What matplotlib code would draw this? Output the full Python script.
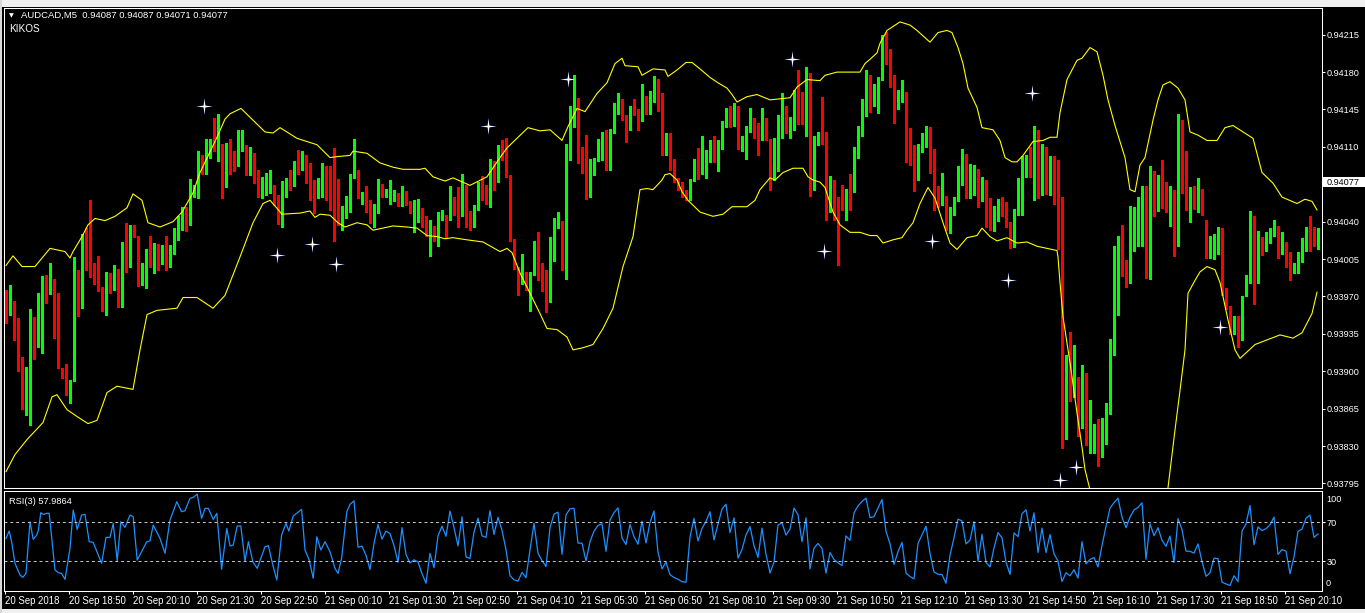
import numpy as np
import matplotlib
matplotlib.use('Agg')
import matplotlib.pyplot as plt
from matplotlib.path import Path
from matplotlib.patches import Rectangle

# AUDCAD M5 candles, prices in points (1 point = 0.00001)
OPEN = [
    93975, 93958, 93966, 93939, 93903, 93876, 93880, 93948, 93923, 93931, 93985, 93980, 93986, 93958, 93903, 93897,
    93875, 93891, 93995, 93968, 94024, 94020, 93992, 93989, 93975, 93956, 93985, 93980, 93989, 93961, 94013, 94006,
    94033, 94027, 93981, 93996, 94003, 93998, 94011, 94003, 94010, 93999, 94013, 94023, 94037, 94046, 94037, 94063,
    94065, 94098, 94088, 94102, 94107, 94106, 94110, 94073, 94106, 94097, 94093, 94111, 94112, 94088, 94099, 94081,
    94067, 94065, 94076, 94074, 94065, 94040, 94067, 94081, 94077, 94095, 94092, 94101, 94084, 94077, 94063, 94064,
    94085, 94070, 94068, 94052, 94037, 94043, 94065, 94083, 94088, 94064, 94068, 94051, 94039, 94049, 94074, 94064,
    94064, 94061, 94063, 94056, 94069, 94055, 94046, 94046, 94049, 94042, 94027, 94036, 94025, 94043, 94046, 94046,
    94063, 94059, 94049, 94074, 94042, 94035, 94054, 94074, 94065, 94064, 94094, 94083, 94105, 94101, 94084, 94022,
    93996, 93985, 93992, 93974, 93992, 94021, 93989, 93977, 93966, 94003, 94034, 94041, 93996, 94098, 94144, 94147,
    94097, 94096, 94063, 94084, 94098, 94107, 94111, 94092, 94123, 94145, 94155, 94139, 94130, 94145, 94141, 94140,
    94155, 94143, 94158, 94173, 94145, 94113, 94116, 94092, 94080, 94077, 94066, 94060, 94079, 94098, 94085, 94094,
    94100, 94113, 94100, 94108, 94130, 94145, 94131, 94148, 94112, 94116, 94127, 94136, 94127, 94116, 94135, 94117,
    94082, 94087, 94126, 94131, 94124, 94126, 94162, 94161, 94145, 94172, 94081, 94113, 94120, 94113, 94050, 94076,
    94061, 94056, 94052, 94073, 94068, 94104, 94120, 94142, 94159, 94157, 94156, 94173, 94210, 94186, 94177, 94145,
    94154, 94161, 94109, 94094, 94084, 94110, 94115, 94128, 94108, 94071, 94063, 94064, 94032, 94048, 94062, 94083,
    94087, 94073, 94076, 94089, 94060, 94079, 94046, 94036, 94042, 94060, 94058, 94038, 94016, 94046, 94046, 94083,
    94096, 94083, 94118, 94068, 94110, 94066, 94094, 94059, 94035, 93890, 93907, 93883, 93890, 93848, 93898, 93830,
    93837, 93840, 93821, 93839, 93864, 93920, 93964, 94026, 94004, 93990, 94013, 94039, 94048, 94072, 93993, 94087,
    94062, 94082, 94066, 94058, 94067, 94027, 94121, 94106, 94051, 94061, 94058, 94065, 94042, 94013, 94013, 94020,
    94020, 93971, 93961, 93945, 93951, 93930, 93970, 93983, 94038, 93983, 94025, 94019, 94024, 94028, 94036, 94010,
    94013, 94011, 93992, 93992, 94005, 94013, 94027, 94021, 94014,
]
HIGH = [
    93976, 93981, 93966, 93950, 93913, 93904, 93958, 93951, 93973, 93989, 93990, 94001, 93986, 93973, 93903, 93907,
    93892, 94007, 93995, 94028, 94034, 94060, 94001, 94008, 93979, 93993, 93992, 93999, 93996, 94021, 94039, 94037,
    94037, 94027, 94001, 94014, 94027, 94020, 94019, 94018, 94027, 94018, 94034, 94045, 94054, 94054, 94080, 94074,
    94106, 94102, 94117, 94117, 94137, 94141, 94113, 94114, 94117, 94106, 94126, 94126, 94112, 94110, 94104, 94088,
    94082, 94086, 94088, 94074, 94065, 94078, 94081, 94088, 94097, 94107, 94106, 94102, 94095, 94079, 94081, 94095,
    94092, 94092, 94109, 94080, 94055, 94064, 94085, 94117, 94088, 94068, 94073, 94060, 94057, 94080, 94075, 94071,
    94079, 94070, 94067, 94073, 94069, 94059, 94060, 94061, 94053, 94045, 94042, 94036, 94049, 94051, 94046, 94073,
    94063, 94072, 94085, 94074, 94050, 94056, 94077, 94083, 94074, 94099, 94097, 94112, 94116, 94118, 94084, 94024,
    93998, 94010, 93993, 93993, 94022, 94030, 94001, 93995, 94026, 94043, 94049, 94041, 94113, 94148, 94177, 94156,
    94110, 94121, 94099, 94100, 94117, 94124, 94126, 94127, 94151, 94160, 94155, 94140, 94148, 94155, 94145, 94169,
    94158, 94162, 94176, 94174, 94160, 94123, 94123, 94099, 94081, 94077, 94070, 94080, 94099, 94109, 94120, 94107,
    94116, 94120, 94116, 94134, 94146, 94148, 94151, 94148, 94120, 94130, 94146, 94137, 94132, 94146, 94137, 94117,
    94118, 94140, 94160, 94148, 94138, 94163, 94182, 94161, 94185, 94179, 94120, 94124, 94157, 94124, 94083, 94079,
    94063, 94074, 94071, 94085, 94110, 94130, 94155, 94182, 94177, 94169, 94175, 94215, 94218, 94202, 94177, 94163,
    94173, 94161, 94128, 94112, 94113, 94123, 94130, 94129, 94108, 94073, 94086, 94064, 94054, 94063, 94092, 94108,
    94103, 94094, 94093, 94089, 94082, 94079, 94062, 94055, 94061, 94063, 94058, 94040, 94052, 94081, 94101, 94102,
    94110, 94130, 94126, 94113, 94110, 94101, 94101, 94098, 94063, 93915, 93937, 93925, 93895, 93906, 93898, 93873,
    93851, 93855, 93856, 93870, 93930, 94017, 94027, 94037, 94004, 94055, 94054, 94063, 94073, 94073, 94092, 94087,
    94084, 94098, 94077, 94073, 94070, 94141, 94135, 94106, 94072, 94073, 94081, 94071, 94042, 94027, 94028, 94035,
    94034, 93978, 93961, 93952, 93952, 93970, 93990, 94050, 94045, 94031, 94026, 94030, 94034, 94042, 94036, 94030,
    94021, 94012, 94001, 94012, 94025, 94035, 94045, 94035, 94034,
]
LOW = [
    93945, 93953, 93929, 93900, 93865, 93859, 93850, 93911, 93923, 93917, 93964, 93972, 93931, 93903, 93894, 93878,
    93870, 93891, 93952, 93959, 93995, 93988, 93982, 93975, 93956, 93953, 93973, 93976, 93960, 93960, 93993, 93998,
    94026, 93980, 93981, 93978, 93998, 93992, 93995, 94000, 93995, 93998, 94010, 94023, 94032, 94031, 94037, 94063,
    94062, 94085, 94085, 94100, 94106, 94097, 94062, 94072, 94085, 94087, 94092, 94106, 94084, 94084, 94076, 94063,
    94062, 94065, 94067, 94056, 94038, 94035, 94063, 94070, 94073, 94085, 94088, 94076, 94060, 94048, 94062, 94063,
    94060, 94051, 94022, 94037, 94032, 94043, 94049, 94081, 94062, 94057, 94049, 94039, 94035, 94048, 94063, 94063,
    94057, 94059, 94055, 94055, 94056, 94048, 94030, 94040, 94035, 94027, 94008, 94022, 94017, 94042, 94026, 94042,
    94046, 94035, 94045, 94035, 94032, 94035, 94051, 94060, 94057, 94054, 94070, 94077, 94098, 94082, 94022, 93996,
    93971, 93982, 93976, 93956, 93990, 93985, 93975, 93955, 93965, 94003, 94034, 93995, 93986, 94098, 94129, 94095,
    94086, 94061, 94063, 94084, 94097, 94098, 94088, 94088, 94123, 94141, 94135, 94115, 94126, 94140, 94126, 94134,
    94141, 94141, 94152, 94144, 94102, 94102, 94088, 94077, 94070, 94063, 94060, 94060, 94078, 94080, 94085, 94081,
    94096, 94096, 94087, 94108, 94129, 94129, 94130, 94108, 94106, 94099, 94124, 94118, 94102, 94116, 94116, 94070,
    94079, 94087, 94118, 94123, 94118, 94126, 94131, 94131, 94120, 94064, 94070, 94112, 94113, 94042, 94049, 94042,
    93999, 94051, 94042, 94051, 94068, 94100, 94120, 94139, 94143, 94148, 94142, 94173, 94188, 94166, 94132, 94145,
    94152, 94096, 94093, 94069, 94079, 94105, 94110, 94086, 94051, 94054, 94056, 94032, 94029, 94046, 94059, 94074,
    94062, 94062, 94065, 94054, 94059, 94035, 94032, 94031, 94041, 94045, 94035, 94015, 94016, 94046, 94046, 94082,
    94082, 94060, 94062, 94065, 94066, 94065, 94057, 94014, 93828, 93837, 93872, 93876, 93839, 93847, 93831, 93823,
    93823, 93811, 93820, 93832, 93860, 93915, 93953, 93989, 93979, 93983, 94013, 94017, 94017, 93987, 93986, 94045,
    94050, 94053, 94049, 94036, 94008, 94017, 94067, 94051, 94040, 94052, 94049, 94046, 94006, 94006, 94005, 94010,
    93971, 93958, 93935, 93935, 93923, 93929, 93970, 93983, 93963, 93983, 94009, 94013, 94020, 94027, 94006, 94010,
    93998, 93985, 93992, 93992, 94002, 94013, 94013, 94017, 94014,
]
CLOSE = [
    93956, 93966, 93938, 93900, 93876, 93881, 93948, 93922, 93931, 93985, 93981, 93987, 93958, 93903, 93899, 93878,
    93892, 93997, 93967, 94018, 94022, 93988, 93989, 93975, 93957, 93981, 93980, 93993, 93961, 94014, 94006, 94033,
    94031, 93986, 93994, 94002, 94002, 94013, 94008, 94007, 94002, 94016, 94025, 94043, 94040, 94041, 94063, 94067,
    94101, 94088, 94108, 94109, 94106, 94110, 94072, 94113, 94092, 94092, 94120, 94112, 94084, 94098, 94079, 94067,
    94071, 94076, 94078, 94061, 94042, 94066, 94081, 94077, 94091, 94093, 94098, 94083, 94076, 94048, 94079, 94080,
    94070, 94065, 94051, 94040, 94046, 94064, 94084, 94099, 94064, 94065, 94057, 94039, 94054, 94072, 94063, 94069,
    94068, 94064, 94056, 94070, 94056, 94049, 94050, 94049, 94043, 94027, 94036, 94024, 94039, 94046, 94042, 94065,
    94058, 94049, 94074, 94037, 94035, 94056, 94076, 94064, 94063, 94097, 94081, 94107, 94098, 94082, 94022, 93997,
    93986, 93991, 93976, 93992, 94021, 93988, 93975, 93965, 94004, 94036, 94042, 93995, 94101, 94144, 94147, 94095,
    94095, 94062, 94085, 94100, 94108, 94110, 94092, 94126, 94142, 94155, 94135, 94130, 94148, 94141, 94137, 94153,
    94142, 94158, 94175, 94144, 94112, 94117, 94088, 94078, 94073, 94065, 94062, 94080, 94098, 94085, 94095, 94101,
    94112, 94100, 94111, 94131, 94145, 94131, 94148, 94110, 94117, 94129, 94137, 94126, 94117, 94136, 94116, 94081,
    94088, 94128, 94132, 94124, 94129, 94161, 94158, 94143, 94170, 94081, 94113, 94120, 94113, 94052, 94076, 94062,
    94056, 94051, 94071, 94068, 94101, 94121, 94143, 94169, 94157, 94158, 94174, 94212, 94188, 94176, 94145, 94155,
    94162, 94108, 94093, 94083, 94110, 94119, 94128, 94106, 94071, 94064, 94064, 94032, 94049, 94063, 94087, 94086,
    94073, 94075, 94087, 94059, 94080, 94044, 94035, 94048, 94061, 94058, 94038, 94016, 94051, 94048, 94085, 94097,
    94083, 94116, 94068, 94112, 94066, 94100, 94060, 94041, 93890, 93906, 93883, 93890, 93848, 93900, 93831, 93838,
    93840, 93820, 93839, 93864, 93920, 93962, 94027, 94003, 93990, 94016, 94041, 94050, 94072, 93993, 94088, 94062,
    94084, 94064, 94055, 94067, 94027, 94121, 94103, 94060, 94060, 94057, 94064, 94046, 94012, 94014, 94021, 94021,
    93971, 93958, 93945, 93949, 93930, 93970, 93981, 94038, 93983, 94025, 94020, 94023, 94028, 94038, 94010, 94013,
    94012, 93986, 93994, 94011, 94013, 94022, 94024, 94018, 94021,
]

# Bollinger envelope as (bar, price points)
BB_UP_BAR = [
    0, 1.75, 4, 7.25, 11, 14.75, 16, 16.75, 19, 20.5, 22.25, 24.75, 27.25, 30.25, 31.75, 34, 35.5, 38.5, 41.75, 44,
    46.75, 48.5, 52.75, 54.75, 56, 58.75, 61.75, 64.75, 66.75, 68.5, 72.75, 75.25, 77.75, 81, 83, 86, 86.75, 90.25,
    93.5, 96.75, 99.25, 103.5, 104.75, 106.75, 109.75, 111.75, 116, 120.25, 123.5, 125.25, 127.75, 130.5, 133.5,
    136, 139, 140.5, 142.75, 144.75, 147.75, 150.25, 152.25, 154, 154.75, 158, 159, 161.75, 164.75, 165.5, 167.75,
    170, 171.5, 173.5, 176, 178, 180.25, 181.5, 182.75, 185.25, 187.75, 191, 196, 197.75, 200.25, 203.5, 204.75,
    207.75, 213.5, 214.75, 216, 217.75, 218.5, 220.25, 223.5, 226, 227.75, 231, 233, 235.25, 236.5, 238, 239.25,
    240.5, 242.75, 244, 246.75, 248.5, 249.75, 251.5, 252.75, 254.25, 256.75, 259.25, 261, 262.75, 263.5, 265.25,
    267.75, 269, 271, 272.75, 274.25, 275.5, 277.25, 279.75, 281, 282.25, 283.5, 284.75, 286.75, 288, 289.25, 291,
    293, 294.75, 296, 298, 300.25, 302.75, 304.75, 306.75, 309.25, 311.75, 314, 316.75, 319, 322.75, 324.75, 326.5,
    327.75,
]
BB_UP = [
    93999, 94008, 93998, 93998, 94015, 94012, 94006, 94012, 94026, 94037, 94043, 94041, 94045, 94053, 94066, 94060,
    94039, 94035, 94040, 94049, 94067, 94086, 94119, 94136, 94141, 94146, 94135, 94124, 94123, 94128, 94118, 94115,
    94112, 94100, 94101, 94102, 94106, 94104, 94095, 94091, 94089, 94089, 94090, 94082, 94078, 94081, 94074, 94082,
    94100, 94109, 94118, 94128, 94125, 94126, 94116, 94129, 94146, 94143, 94160, 94170, 94188, 94193, 94186, 94185,
    94177, 94183, 94182, 94176, 94182, 94189, 94189, 94183, 94175, 94170, 94165, 94159, 94152, 94157, 94159, 94154,
    94156, 94166, 94173, 94172, 94177, 94180, 94180, 94188, 94192, 94198, 94207, 94219, 94227, 94224, 94219, 94208,
    94217, 94219, 94217, 94203, 94188, 94165, 94147, 94128, 94126, 94116, 94100, 94096, 94096, 94102, 94115, 94116,
    94119, 94119, 94142, 94173, 94191, 94193, 94203, 94199, 94177, 94154, 94130, 94100, 94070, 94068, 94093, 94100,
    94135, 94154, 94168, 94171, 94165, 94154, 94124, 94121, 94116, 94116, 94128, 94130, 94124, 94118, 94086, 94076,
    94063, 94057, 94061, 94059, 94051,
]
BB_LO_BAR = [
    0, 2.25, 5.25, 9.25, 11.5, 12.75, 15.25, 18, 20.5, 22.75, 25.25, 27.75, 31.75, 33.5, 35.25, 37.75, 42.75, 44.25,
    47.75, 51.75, 54.75, 58.5, 61.75, 64.25, 66, 69, 73.5, 76, 77.25, 78.5, 81, 83, 84.75, 87.75, 90.25, 91.75,
    94.25, 96.75, 100.25, 102.75, 105.25, 107.75, 109.75, 111.75, 115.25, 119.25, 123.5, 125.25, 126.5, 128.5, 131,
    133.5, 135.25, 137.75, 140.25, 141.75, 144.25, 146.75, 149.25, 151.75, 154.25, 156.75, 158.5, 160.25, 161.75,
    164, 164.75, 166, 167.75, 169, 170.5, 173.5, 176.75, 179.25, 181.5, 185.25, 187.25, 188.5, 191, 192.25, 194.25,
    196.75, 199.25, 200.5, 201.75, 203.5, 204.75, 206.75, 208.5, 211, 213.5, 216, 217.75, 219.25, 221.75, 224,
    225.25, 226.75, 228.5, 230.5, 232.25, 234.25, 236, 237.75, 240.25, 242.75, 244, 246, 247.75, 250.25, 252.75,
    255.25, 257.75, 260.25, 262.75, 263, 263.5, 264.25, 266, 267.75, 269, 269.75, 271, 276, 283, 288, 290.5, 292.25,
    293.5, 294.75, 295.5, 297.25, 298.5, 300.25, 302.25, 303.5, 305.5, 307.25, 308.5, 312.25, 318.5, 321.75, 324,
    326.5, 327.75,
]
BB_LO = [
    93806, 93822, 93836, 93852, 93876, 93878, 93864, 93857, 93851, 93854, 93880, 93886, 93883, 93920, 93953, 93957,
    93959, 93969, 93969, 93959, 93971, 94007, 94039, 94057, 94060, 94047, 94048, 94050, 94044, 94047, 94046, 94039,
    94035, 94039, 94037, 94032, 94034, 94036, 94035, 94034, 94027, 94026, 94024, 94025, 94023, 94021, 94012, 94015,
    94011, 93992, 93973, 93954, 93940, 93939, 93932, 93920, 93922, 93925, 93940, 93959, 93998, 94026, 94070, 94071,
    94070, 94079, 94084, 94085, 94079, 94068, 94060, 94049, 94045, 94047, 94054, 94054, 94060, 94070, 94081, 94079,
    94086, 94090, 94090, 94082, 94079, 94077, 94072, 94049, 94037, 94030, 94030, 94027, 94027, 94020, 94023, 94025,
    94032, 94039, 94057, 94072, 94062, 94039, 94020, 94014, 94025, 94027, 94034, 94026, 94022, 94025, 94020, 94021,
    94017, 94015, 94013, 94007, 93983, 93951, 93908, 93861, 93829, 93808, 93789, 93760, 93745, 93765, 93791, 93845,
    93882, 93920, 93973, 93985, 93993, 93998, 93995, 93983, 93948, 93920, 93912, 93925, 93934, 93931, 93936, 93954,
    93974,
]

# KIKOS signal stars
STAR_BAR = [49.5, 67.7, 76.5, 82.5, 120.5, 140.5, 196.5, 204.5, 231.5, 250.5, 256.5, 263.5, 267.5, 303.5]
STAR_PRICE = [94148, 94009, 94019, 94000, 94130, 94174, 94192, 94013, 94022, 93985, 94160, 93798, 93810, 93941]

# RSI(3) line, (bar, value)
RSI_BAR = [
    0, 0.8, 1.4, 2.25, 3.5, 4.2, 5, 6, 6.8, 7.7, 8.1, 8.7, 9.3, 10.2, 10.8, 12.25, 13.1, 13.9, 14.75, 16, 16.8,
    17.8, 18.9, 19.75, 20.8, 21.8, 23.9, 25, 26, 26.8, 27.8, 28.7, 29.75, 31, 31.8, 32.8, 35.2, 36, 36.8, 38.5,
    39.75, 41, 42.7, 43.9, 44.75, 46, 46.8, 47.8, 48.9, 49.75, 50.6, 51.8, 52.7, 53.9, 55.2, 56, 56.8, 57.8, 58.7,
    59.75, 60.6, 61.7, 62.8, 64.75, 65.6, 66.7, 67.7, 68.9, 70, 70.7, 71.8, 73.9, 74.75, 75.8, 76.8, 77.7, 78.7,
    79.75, 81, 82.25, 83, 83.9, 85.2,
] + list(range(86, 329))
RSI_VAL = [
    53.4, 61, 50, 27.6, 15.5, 13.1, 17.2, 70.6, 52.4, 56.9, 62, 80, 78.2, 79.3, 79.3, 20.7, 17.9, 17.2, 11, 43.1,
    82.7, 62.7, 77.5, 78.2, 50, 49.3, 27.6, 54.4, 54.4, 68.9, 30.3, 70.6, 64.8, 77.5, 75.8, 31, 50, 50.7, 67.2,
    53.4, 37.9, 72.4, 91.3, 81, 82, 94.8, 95.8, 99.2, 74.1, 84.4, 84.4, 73, 79.3, 21.4, 63.7, 45.5, 46.5, 66.2,
    66.2, 30, 50, 29.3, 22.4, 44.8, 45.8, 25.9, 10.4, 56.9, 68.9, 61, 76.5, 83.4, 41.4, 31, 12.1, 55.1, 41.4, 50,
    39.6, 22.4, 17.2, 32.7, 81,
    88.6, 92.2, 44.2, 45.4, 35.9, 21.2, 48, 67.7, 52.6, 61, 58.4, 46, 28.6, 64.5, 36.7, 28, 31.3, 29, 17, 7,
    38, 23, 56, 66, 55.6, 81.7, 64.5, 45.6, 75.7, 34.2, 32.7, 59.8, 74.3, 56, 54.5, 82, 57.5, 75.2, 61.7, 41.8,
    14.8, 10.7, 9.1, 18.2, 12.8, 41.4, 69, 38.2, 30.3, 24.4, 64.5, 78.5, 80.5, 36.9, 77.7, 84, 84.5, 48.5, 48.5, 30,
    50, 60.9, 66.7, 68.5, 40, 72.4, 80, 85, 53.8, 47, 67.8, 55.2, 47.4, 71.2, 48.7, 70, 81.8, 39.2, 21.8, 29,
    15.9, 13, 11.2, 8.6, 8, 54.6, 74.1, 50.7, 63.7, 70.9, 81, 51.8, 68.2, 83.6, 88.7, 59.3, 74.7, 33, 42, 57,
    65.6, 46, 33.6, 64, 37, 17.6, 28.7, 67.2, 69.7, 56.8, 63, 84.7, 78, 50, 74.7, 21.8, 43.4, 48.2, 42.9, 17.5,
    38.8, 31.6, 28.2, 25.2, 56, 51.3, 79.8, 87, 91.6, 95, 74.9, 75.8, 84.9, 93.6, 60.6, 47.9, 26.5, 39.6, 49.3, 17.6,
    14, 11.5, 48.2, 57.1, 66, 37.8, 18.6, 16.3, 16.1, 7, 36, 54, 73.3, 71.5, 47.7, 51.6, 70.6, 29.8, 57.6, 28.6,
    23.9, 43.5, 59.4, 54, 28.9, 16.1, 59, 55.2, 78.9, 83, 61, 79.8, 38.8, 64.1, 38.8, 57.4, 37.4, 29.9, 8.8, 17.9,
    14.7, 21, 12.4, 50, 27, 31.7, 33.6, 23.9, 46, 65.8, 84.7, 90.4, 95, 75.4, 64.5, 75.3, 82.8, 85.4, 90.2, 31.8,
    68.5, 56.2, 64.4, 51.4, 45.2, 55.8, 28.4, 73.9, 62.5, 40.2, 40.1, 38.1, 47.7, 29.6, 14.2, 17.8, 33, 32.5, 8.1, 6.3,
    4.7, 14.8, 8.7, 61, 68.2, 87.4, 46.8, 65.3, 61.4, 63.5, 67.3, 75.4, 36.8, 41.7, 40.2, 16.9, 34.4, 60.7, 63, 74.2,
    77.5, 54.4, 58,
]

PRICE_TICKS = [0.94215, 0.94180, 0.94145, 0.94110, 0.94040, 0.94005, 0.93970,
               0.93935, 0.93900, 0.93865, 0.93830, 0.93795]
TIME_LABELS = ['20 Sep 2018', '20 Sep 18:50', '20 Sep 20:10', '20 Sep 21:30', '20 Sep 22:50',
               '21 Sep 00:10', '21 Sep 01:30', '21 Sep 02:50', '21 Sep 04:10', '21 Sep 05:30',
               '21 Sep 06:50', '21 Sep 08:10', '21 Sep 09:30', '21 Sep 10:50', '21 Sep 12:10',
               '21 Sep 13:30', '21 Sep 14:50', '21 Sep 16:10', '21 Sep 17:30', '21 Sep 18:50',
               '21 Sep 20:10']
BID = 0.94077
HEADER = 'AUDCAD,M5  0.94087 0.94087 0.94071 0.94077'

W, H = 1365, 613
plt.rcParams['font.family'] = ['Liberation Sans', 'DejaVu Sans']

def fx(px):
    return px / W

def fy(px):
    return 1 - px / H

def sparkle(inner=0.15):
    ang = np.deg2rad(np.arange(8) * 45 + 90)
    r = np.where(np.arange(8) % 2 == 0, 1.0, inner)
    v = np.column_stack([r * np.cos(ang), r * np.sin(ang)])
    return Path(np.vstack([v, v[:1]]), closed=True)

fig = plt.figure(figsize=(W / 100, H / 100), dpi=100, facecolor='black')
ax = fig.add_axes([fx(4), fy(488), fx(1322 - 4), (488 - 8) / H], facecolor='black')
ax2 = fig.add_axes([fx(4), fy(591), fx(1322 - 4), (591 - 491) / H], facecolor='black', sharex=ax)

o = np.array(OPEN) / 1e5
h = np.array(HIGH) / 1e5
l = np.array(LOW) / 1e5
c = np.array(CLOSE) / 1e5
idx = np.arange(len(c))
cols = np.where(c >= o, '#00ff00', '#ff0000')

# candles
ax.vlines(idx, l, h, colors=cols, linewidth=0.75, antialiased=False, zorder=2)
ax.bar(idx, np.maximum(np.abs(c - o), 1e-5), bottom=np.minimum(o, c), width=0.72,
       color=cols, linewidth=0, antialiased=False, zorder=3)

# bands
ax.plot(BB_UP_BAR, np.array(BB_UP) / 1e5, color='#ffff00', lw=0.8, zorder=4)
ax.plot(BB_LO_BAR, np.array(BB_LO) / 1e5, color='#ffff00', lw=0.8, zorder=4)

# stars
star = sparkle()
sb, sp = STAR_BAR, np.array(STAR_PRICE) / 1e5
ax.plot(sb, sp, ls='none', marker=star, ms=13, color='#4060ff', mew=0, alpha=0.8, zorder=5)
ax.plot(sb, sp, ls='none', marker=star, ms=11, color='white', mew=0, zorder=6)

ax.set_xlim(-0.5, 329)
ax.set_ylim(0.937907, 0.942400)

for a in (ax, ax2):
    for s in a.spines.values():
        s.set_color('white')
        s.set_linewidth(0.75)
    a.yaxis.tick_right()
    a.tick_params(axis='y', direction='out', length=2.2, width=0.75, colors='white',
                  labelsize=6.6, pad=1.4)

ax.set_yticks(PRICE_TICKS)
ax.set_yticklabels([f'{t:.5f}' for t in PRICE_TICKS])
ax.tick_params(axis='x', bottom=False, labelbottom=False)

# bid marker on the price scale
yb = ax.transData.transform((0, BID))[1] / H
fig.add_artist(Rectangle((fx(1322), yb - 5 / H), fx(43), 10 / H, transform=fig.transFigure,
                         facecolor='white', edgecolor='none', zorder=10))
fig.text(fx(1327), yb, f'{BID:.5f}', color='black', fontsize=6.6, va='center', ha='left', zorder=11)

# RSI panel
ax2.plot(RSI_BAR, RSI_VAL, color='#1e90ff', lw=0.9)
for lev in (70, 30):
    ax2.axhline(lev, color='#c8c8c8', lw=0.7, ls=(0, (3, 3)))
ax2.set_ylim(-1.0, 102.4)
ax2.set_yticks([70, 30])
ax2.set_yticklabels(['70', '30'])
fig.text(fx(1326), fy(499), '100', color='white', fontsize=6.6, va='center', ha='left')
fig.text(fx(1326), fy(584), '0', color='white', fontsize=6.6, va='center', ha='left')

ticks = np.arange(len(TIME_LABELS)) * 16 - 0.33
ax2.set_xticks(ticks)
ax2.set_xticklabels(TIME_LABELS)
ax2.tick_params(axis='x', direction='out', length=2.2, width=0.75, colors='white', labelsize=6.2, pad=1.5)
for lab in ax2.get_xticklabels():
    lab.set_ha('left')
    lab.set_fontfamily(['Liberation Sans Narrow', 'Liberation Sans', 'DejaVu Sans'])
    lab.set_fontsize(6.9)

# header texts
fig.text(fx(11.5), fy(15.5), '\u25bc', color='white', fontsize=4.5, va='center', ha='center',
         family='DejaVu Sans')
fig.text(fx(21), fy(15.5), HEADER, color='white', fontsize=6.8, va='center', ha='left')
fig.text(fx(9), fy(28.5), 'KIKOS', color='white', fontsize=7.2, va='center', ha='left')
fig.text(fx(9), fy(501), 'RSI(3) 57.9864', color='white', fontsize=6.7, va='center', ha='left')

# window chrome
fig.add_artist(Rectangle((0, fy(7)), 1, 7 / H, transform=fig.transFigure, facecolor='#f0f0f0',
                         edgecolor='none'))
fig.add_artist(Rectangle((0, 0), 1, 4 / H, transform=fig.transFigure, facecolor='#f0f0f0',
                         edgecolor='none'))
fig.add_artist(Rectangle((0, 0), fx(2), 1, transform=fig.transFigure, facecolor='#d8d8d8',
                         edgecolor='none'))

fig.savefig('out.png', dpi=100, facecolor='black')
